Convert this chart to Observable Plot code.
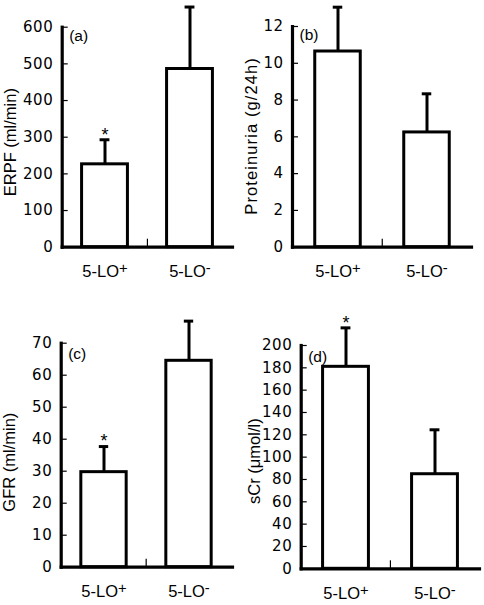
<!DOCTYPE html>
<html><head><meta charset="utf-8">
<script src="https://cdn.jsdelivr.net/npm/d3@7"></script>
<script src="https://cdn.jsdelivr.net/npm/@observablehq/plot@0.6"></script>
<style>
body{margin:0;background:#fff;}
#wrap{position:relative;width:484px;height:605px;background:#fff;}
.panel{position:absolute;}
</style></head><body><div id="wrap"></div>
<script>
// ---- data ----
const groups = ["5-LO+", "5-LO-"];

const erpfMean = [226, 486];
const erpfSD = [67, 169];
const erpfStar = ["*", ""];
const erpfTicks = [0, 100, 200, 300, 400, 500, 600];

const protMean = [10.64, 6.24];
const protSD = [2.41, 2.10];
const protStar = ["", ""];
const protTicks = [0, 2, 4, 6, 8, 10, 12];

const gfrMean = [29.7, 64.5];
const gfrSD = [8.0, 12.4];
const gfrStar = ["*", ""];
const gfrTicks = [0, 10, 20, 30, 40, 50, 60, 70];

const scrMean = [180.9, 84.7];
const scrSD = [34.9, 39.8];
const scrStar = ["*", ""];
const scrTicks = [0, 20, 40, 60, 80, 100, 120, 140, 160, 180, 200];

const panels = [
  {letter: "(a)", label: "ERPF (ml/min)", mean: erpfMean, sd: erpfSD, star: erpfStar, ticks: erpfTicks,
   left: 0, top: 0, width: 242, height: 290, mL: 61.7, mR: 10, mT: 26.7, mB: 43.3, labX: 10, labDy: 5, labLs: 0, letDy: 9},
  {letter: "(b)", label: "Proteinuria (g/24h)", mean: protMean, sd: protSD, star: protStar, ticks: protTicks,
   left: 242, top: 0, width: 242, height: 290, mL: 50, mR: 13, mT: 26, mB: 43.3, labX: 9.5, labDy: -1, labLs: 1.1, letDy: 9},
  {letter: "(c)", label: "GFR (ml/min)", mean: gfrMean, sd: gfrSD, star: gfrStar, ticks: gfrTicks,
   left: 0, top: 300, width: 242, height: 305, mL: 60.7, mR: 10, mT: 42.7, mB: 38.3, labX: 9.5, labDy: 7, labLs: 0, letDy: 10.5},
  {letter: "(d)", label: "sCr (\u03bcmol/l)", mean: scrMean, sd: scrSD, star: scrStar, ticks: scrTicks,
   left: 242, top: 300, width: 242, height: 305, mL: 58.7, mR: 5, mT: 45, mB: 36.7, labX: 12.5, labDy: 4, labLs: 0, letDy: 11.5}
];

const wrap = document.getElementById("wrap");
const FONT = "'Liberation Sans', Arial, Helvetica, sans-serif";

for (const p of panels) {
  const data = groups.map((g, i) => ({g, mean: p.mean[i], top: p.mean[i] + p.sd[i], star: p.star[i]}));
  const frameW = p.width - p.mL - p.mR;
  const frameH = p.height - p.mT - p.mB;
  const band = frameW / 2;
  const barInset = (band - 46) / 2;
  const capInset = (band - 10) / 2;
  const yMax = p.ticks[p.ticks.length - 1];

  const chart = Plot.plot({
    width: p.width,
    height: p.height,
    marginLeft: p.mL,
    marginRight: p.mR,
    marginTop: p.mT,
    marginBottom: p.mB,
    style: {fontFamily: FONT, fontSize: "14px", color: "black", background: "white", overflow: "visible"},
    x: {domain: groups, padding: 0, axis: null},
    y: {domain: [0, yMax], axis: null},
    marks: [
      Plot.barY(data, {x: "g", y: "mean", fill: "white", stroke: "black", strokeWidth: 3,
        insetLeft: barInset, insetRight: barInset}),
      Plot.ruleX(data, {x: "g", y1: "mean", y2: "top", stroke: "black", strokeWidth: 3}),
      Plot.tickY(data, {x: "g", y: "top", stroke: "black", strokeWidth: 3,
        insetLeft: capInset, insetRight: capInset}),
      Plot.text(data, {x: "g", y: "top", text: "star", dy: -5, fontSize: 18, lineAnchor: "middle"}),
      // inward y ticks
      Plot.ruleY(p.ticks, {stroke: "black", strokeWidth: 1.2, insetRight: frameW - 6}),
      // category divider tick on x axis
      Plot.ruleX([groups[1]], {stroke: "black", strokeWidth: 1.2, dx: -band / 2, insetTop: frameH - 8}),
      Plot.frame({anchor: "left", stroke: "black", strokeWidth: 3.2}),
      Plot.frame({anchor: "bottom", stroke: "black", strokeWidth: 3.2}),
      // y tick labels
      Plot.text(p.ticks, {y: d => d, text: d => String(d), frameAnchor: "left", dx: -9, textAnchor: "end",
        lineAnchor: "middle", fontSize: 15, fontFamily: "DejaVu Sans"}),
      Plot.axisX({tickSize: 0, tickPadding: 18, label: null, fontSize: 16.5}),
      Plot.text([p.letter], {frameAnchor: "top-left", dx: 7, dy: p.letDy, textAnchor: "start", lineAnchor: "middle", fontSize: 15.5}),
      Plot.text([p.label], {frameAnchor: "left", dx: p.labX - p.mL, dy: p.labDy, rotate: -90,
        textAnchor: "middle", lineAnchor: "middle", fontSize: 16.5})
    ]
  });

  // style text directly: wide digits on the y tick labels, spacing on the axis title
  chart.querySelectorAll("text").forEach(t => {
    const s = t.textContent.trim();
    if (/^\d+$/.test(s)) {
      t.setAttribute("font-size", "15");
      t.setAttribute("font-family", "DejaVu Sans");
      t.style.setProperty("font-size", "15px", "important");
      t.style.setProperty("font-family", "'DejaVu Sans', sans-serif", "important");
      t.style.setProperty("letter-spacing", "0.5px", "important");
    } else if (s === p.label) {
      t.style.letterSpacing = p.labLs + "px";
    }
  });

  // raise the +/- sign of group labels like a superscript
  chart.querySelectorAll('g[aria-label*="x-axis"] text').forEach(t => {
    const s = t.textContent;
    const sign = s.slice(-1);
    if (sign !== "+" && sign !== "-") return;
    t.textContent = s.slice(0, -1);
    const ts = document.createElementNS("http://www.w3.org/2000/svg", "tspan");
    ts.setAttribute("dy", "-0.27em");
    ts.setAttribute("font-size", "0.9em");
    ts.textContent = sign;
    t.appendChild(ts);
  });

  const div = document.createElement("div");
  div.className = "panel";
  div.style.left = p.left + "px";
  div.style.top = p.top + "px";
  div.appendChild(chart);
  wrap.appendChild(div);
}
</script>
</body></html>
